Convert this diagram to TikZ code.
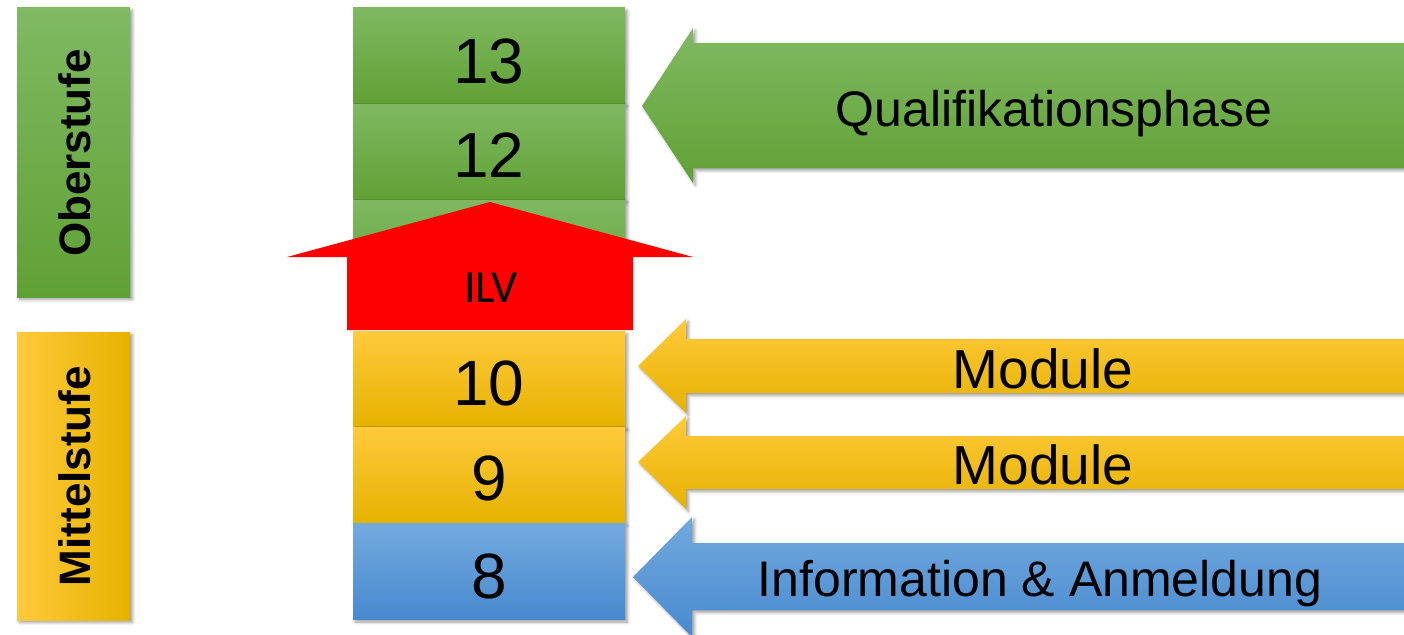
\documentclass[tikz,border=0pt]{standalone}
\usepackage{fontspec}
\setmainfont{Liberation Sans}
\newfontfamily\ilvfont{Carlito}
\usetikzlibrary{shadows.blur}
\definecolor{gtop}{HTML}{80B962}
\definecolor{gbot}{HTML}{60A135}
\definecolor{ytop}{HTML}{FFCA3C}
\definecolor{ymid}{HTML}{FFC000}
\definecolor{ybot}{HTML}{E6B200}
\definecolor{btop}{HTML}{72AADE}
\definecolor{bbot}{HTML}{4889CF}
\definecolor{ilvred}{HTML}{FF0000}
\tikzset{
  shadowed/.style={blur shadow={shadow xshift=2.5pt, shadow yshift=-2.5pt, shadow blur steps=6, shadow blur radius=3pt, shadow opacity=40}},
  greenfill/.style={top color=gtop, bottom color=gbot},
  yellowfill/.style={top color=ytop, middle color=ymid, bottom color=ybot},
  bluefill/.style={top color=btop, bottom color=bbot},
  yearbox/.style={shadowed, minimum width=272pt, minimum height=96pt, inner sep=0pt, outer sep=0pt},
  yeartext/.style={anchor=base, font=\fontsize{64}{64}\selectfont, text=black, inner sep=0pt},
  stagebox/.style={shadowed, minimum width=113pt, inner sep=0pt, outer sep=0pt},
  stagetext/.style={rotate=90, font=\fontsize{44}{44}\selectfont\bfseries, text=black, inner sep=0pt},
  arrowtext/.style={anchor=base, font=\fontsize{50}{50}\selectfont, text=black, inner sep=0pt},
}
\begin{document}
\begin{tikzpicture}[x=1pt,y=-1pt]
\useasboundingbox (0,0) rectangle (1404,634);
\clip (0,0) rectangle (1404,634);
% stage boxes
\node[stagebox, greenfill, minimum height=289pt] (ober) at (73.5,152.5) {};
\node[stagetext] (obertext) at (75,153) {Oberstufe};
\node[stagebox, left color=ytop, middle color=ymid, right color=ybot, minimum height=288pt] (mittel) at (73.5,476) {};
\node[stagetext] (mitteltext) at (75,476) {Mittelstufe};
% year boxes
\node[yearbox, greenfill] (y13) at (489,56) {};
\node[yeartext] (t13) at (489,83) {13};
\node[yearbox, greenfill] (y12) at (489,152) {};
\node[yeartext] (t12) at (489,177) {12};
\node[yearbox, greenfill] (y11) at (489,248) {};
\node[yearbox, yellowfill] (y10) at (489,379.5) {};
\node[yeartext] (t10) at (489,405) {10};
\node[yearbox, yellowfill] (y9) at (489,475) {};
\node[yeartext] (t9) at (489,500) {9};
\node[yearbox, bluefill] (y8) at (489,571.5) {};
\node[yeartext] (t8) at (489,598) {8};
% red ILV arrow
\fill[ilvred] (490,202) -- (693,257) -- (633,257) -- (633,330) -- (347,330) -- (347,257) -- (287,257) -- cycle;
\node[font=\ilvfont\fontsize{46}{46}\selectfont, text=black, anchor=base, inner sep=0pt] (ilv) at (491,302) {ILV};
% side arrows
\path[shadowed, greenfill] (642,106) -- (693,28) -- (693,43) -- (1410,43) -- (1410,168) -- (693,168) -- (693,183) -- cycle;
\node[arrowtext] (quali) at (1054,126) {Qualifikationsphase};
\path[shadowed, yellowfill] (638,366) -- (686,319) -- (686,339) -- (1410,339) -- (1410,393) -- (686,393) -- (686,413) -- cycle;
\node[arrowtext, font=\fontsize{55}{55}\selectfont] (mod1) at (1043,388) {Module};
\path[shadowed, yellowfill] (638,462) -- (686,416) -- (686,436) -- (1410,436) -- (1410,489) -- (686,489) -- (686,509) -- cycle;
\node[arrowtext, font=\fontsize{55}{55}\selectfont] (mod2) at (1043,484) {Module};
\path[shadowed, bluefill] (633,577) -- (692,517) -- (692,543) -- (1410,543) -- (1410,610) -- (692,610) -- (692,637) -- cycle;
\node[arrowtext] (info) at (1040,596) {Information \& Anmeldung};
\end{tikzpicture}
\end{document}
